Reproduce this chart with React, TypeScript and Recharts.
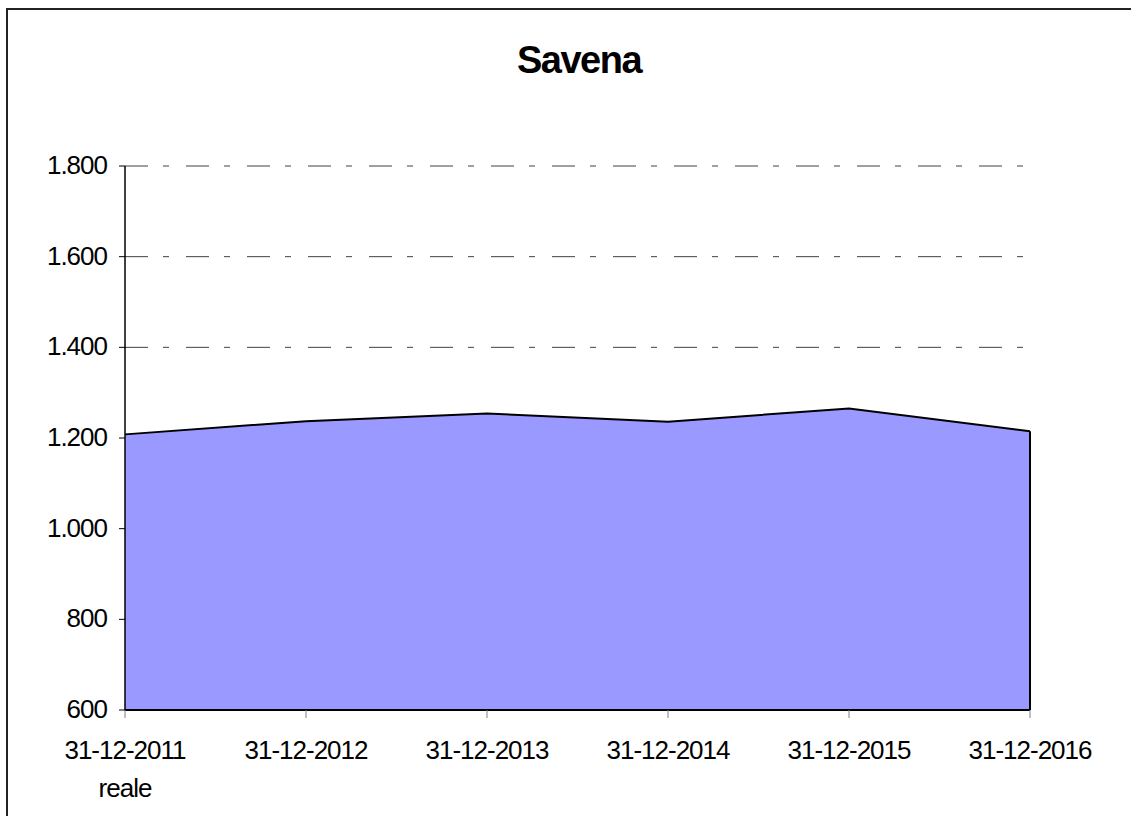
import React from 'react';
import { AreaChart, Area, XAxis, YAxis, CartesianGrid, ReferenceLine } from 'recharts';

const categories = ['31-12-2011', '31-12-2012', '31-12-2013', '31-12-2014', '31-12-2015', '31-12-2016'];
const subLabels = ['reale', '', '', '', '', ''];
const values = [1208, 1237, 1254, 1236, 1265, 1215];
const yTicks = [600, 800, 1000, 1200, 1400, 1600, 1800];
const title = 'Savena';

const data = categories.map((c, i) => ({ name: c, value: values[i], sub: subLabels[i] }));

const FONT = '"Liberation Sans", Arial, sans-serif';

const fmt = (v: number) => v.toLocaleString('de-DE');

const YTick = (props: any) => {
  const { x, y, payload } = props;
  return (
    <text x={x} y={y + 8} textAnchor="end" fontFamily={FONT} fontSize={26} letterSpacing={-1} fill="#000">
      {fmt(payload.value)}
    </text>
  );
};

const XTick = (props: any) => {
  const { x, y, payload, index } = props;
  const sub = subLabels[index];
  return (
    <g>
      <text x={x} y={y + 39} textAnchor="middle" fontFamily={FONT} fontSize={26} letterSpacing={-1} fill="#000">
        {payload.value}
      </text>
      {sub ? (
        <text x={x} y={y + 77} textAnchor="middle" fontFamily={FONT} fontSize={26} letterSpacing={-1} fill="#000">
          {sub}
        </text>
      ) : null}
    </g>
  );
};

export default function App() {
  return (
    <div style={{ position: 'fixed', left: 0, top: 0, width: 1131, height: 816, overflow: 'hidden', background: '#fff' }}>
      <div style={{ position: 'absolute', left: 0, top: 0 }}>
        <AreaChart width={1131} height={816} data={data} margin={{ top: 166, right: 101, left: 0, bottom: 0 }}>
          <CartesianGrid vertical={false} stroke="#404040" strokeDasharray="23 15 6 17" />
          <XAxis
            dataKey="name"
            scale="point"
            padding={{ left: 0, right: 0 }}
            height={106}
            tickSize={8}
            tickMargin={2}
            tickLine={{ stroke: '#808080', strokeWidth: 1 }}
            axisLine={{ stroke: '#000', strokeWidth: 2 }}
            tick={<XTick />}
            interval={0}
          />
          <YAxis
            domain={[600, 1800]}
            ticks={yTicks}
            width={125}
            tickSize={6}
            tickMargin={12}
            tickLine={{ stroke: '#000', strokeWidth: 1 }}
            axisLine={{ stroke: '#000', strokeWidth: 1.5 }}
            tick={<YTick />}
            interval={0}
            allowDataOverflow
          />
          <Area
            type="linear"
            dataKey="value"
            fill="#9999FF"
            fillOpacity={1}
            stroke="#000"
            strokeWidth={2}
            isAnimationActive={false}
            dot={false}
            activeDot={false}
          />
          <ReferenceLine
            segment={[{ x: categories[5], y: values[5] }, { x: categories[5], y: yTicks[0] }]}
            stroke="#000"
            strokeWidth={2}
          />
        </AreaChart>
      </div>
      <svg width={1131} height={816} style={{ position: 'absolute', left: 0, top: 0, pointerEvents: 'none' }}>
        <rect x={7} y={9} width={1200} height={900} fill="none" stroke="#222" strokeWidth={2} />
        <text x={579} y={73} textAnchor="middle" fontFamily={FONT} fontWeight="bold" fontSize={38} letterSpacing={-1.5} fill="#000">
          {title}
        </text>
      </svg>
    </div>
  );
}
